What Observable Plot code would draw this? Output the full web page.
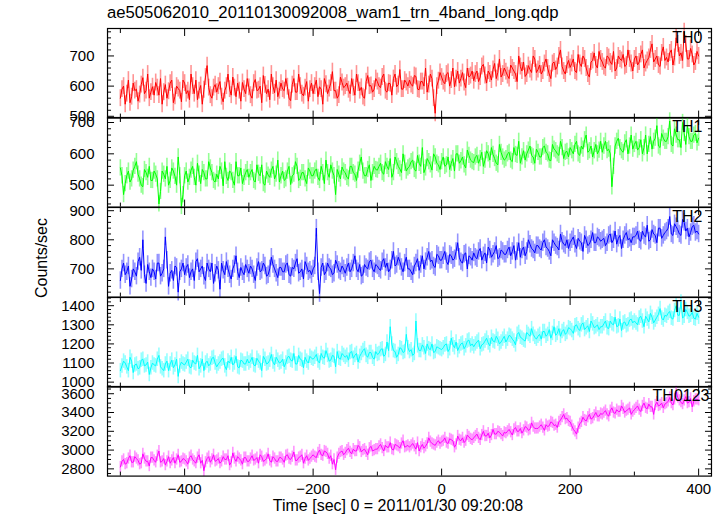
<!DOCTYPE html>
<html><head><meta charset="utf-8">
<script src="https://cdn.jsdelivr.net/npm/d3@7"></script>
<script src="https://cdn.jsdelivr.net/npm/@observablehq/plot@0.6"></script>
<style>
html,body{margin:0;padding:0;background:#fff;}
#chart{position:relative;width:723px;height:516px;font-family:"Liberation Sans",Arial,sans-serif;color:#000;overflow:hidden;}
#chart svg{position:absolute;left:0;overflow:visible;}
.lbl{position:absolute;white-space:nowrap;font-size:16px;line-height:16px;}
</style></head><body><div id="chart"></div>
<script>
const title = "ae505062010_20110130092008_wam1_trn_4band_long.qdp";
const xTitle = "Time [sec] 0 = 2011/01/30 09:20:08";
const yTitle = "Counts/sec";
const bands = ["TH0", "TH1", "TH2", "TH3", "TH0123"];
const colors = ["#ff0000", "#00ff00", "#0000ff", "#00ffff", "#ff00ff"];
// readings every 5 s from t=-500 (a) and the in-between readings at t=-497.5+5k (b)
const tStart = -500, tStep = 2.5;

const th0a = [
560,600,575,545,610,590,572,628,585,560,
598,612,570,540,605,583,620,566,592,548,
610,585,640,575,555,602,588,668,570,595,
580,615,548,600,590,630,565,585,612,575,
596,560,622,588,545,604,590,640,578,565,
610,585,598,552,625,580,600,568,615,590,
575,620,598,540,606,592,648,585,570,612,
600,588,625,570,610,596,560,635,602,590,
615,595,640,580,608,625,598,655,590,612,
620,600,632,588,615,660,605,625,510,618,
630,608,645,620,598,650,625,612,660,635,
618,650,630,672,610,640,655,625,690,640,
648,625,660,640,700,650,632,668,645,690,
655,640,675,660,625,680,665,720,650,670,
662,690,645,675,700,660,630,685,670,715,
680,660,695,672,650,700,685,665,720,675,
690,670,705,660,685,720,680,700,665,730,
695,710,670,760,700,685,740,690,705,680,
700];
const th0b = [
590,540,620,565,585,550,605,575,640,580,
570,595,625,580,560,610,545,600,585,620,
575,555,600,620,585,540,630,595,560,605,
600,565,585,640,570,595,610,550,590,625,
570,610,585,600,635,575,555,600,620,585,
590,625,560,605,580,640,575,595,550,610,
600,565,590,625,575,610,585,560,630,595,
610,575,595,640,585,565,615,600,580,625,
600,630,585,610,570,640,605,590,620,600,
605,635,590,615,600,580,640,560,600,645,
615,640,600,660,625,610,645,595,630,650,
640,615,665,635,650,620,675,645,630,660,
635,670,650,615,665,680,640,655,700,645,
670,650,690,640,675,655,700,665,640,685,
675,650,705,665,690,640,680,710,660,690,
665,700,680,715,660,690,705,670,690,650,
700,680,720,675,695,740,690,670,710,685,
680,720,695,740,710,780,690,725,670,715];

const th1a = [
555,470,530,510,548,575,520,495,540,560,
515,535,440,545,520,500,555,528,590,432,
530,510,548,525,570,505,540,520,555,515,
535,560,498,528,545,515,575,530,505,540,
525,550,510,538,565,500,532,548,520,580,
530,515,545,502,535,560,522,540,505,545,
530,552,515,540,580,525,545,470,535,558,
540,520,560,535,548,590,530,550,515,560,
548,570,535,560,585,540,575,552,600,545,
560,580,545,570,620,555,575,548,590,565,
575,560,590,570,545,600,578,565,612,580,
572,595,585,560,610,580,598,570,630,590,
585,605,575,598,640,590,580,612,595,570,
605,590,625,600,578,615,600,640,585,608,
620,600,640,595,615,660,610,590,630,612,
605,640,615,495,625,650,610,635,600,660,
630,612,645,620,600,655,640,690,620,650,
640,705,625,660,645,700,630,655,640,665,
650];
const th1b = [
530,505,545,520,560,535,500,550,525,515,
545,520,480,535,560,515,545,500,530,470,
545,525,560,500,535,550,520,575,540,510,
520,545,575,515,540,500,530,555,525,550,
540,515,565,530,505,545,525,560,535,510,
545,520,560,530,575,515,540,520,555,530,
545,525,560,505,540,565,530,550,520,545,
525,560,540,515,570,545,530,565,540,550,
560,540,575,550,525,590,560,540,570,555,
575,550,595,560,540,585,565,600,570,550,
590,565,550,585,600,570,590,555,595,575,
590,570,605,580,600,620,585,565,605,580,
600,580,620,595,570,610,600,625,590,615,
590,620,605,580,630,610,595,620,605,590,
610,630,600,625,645,605,625,610,600,640,
625,610,600,560,640,620,605,645,625,615,
640,620,600,660,630,615,650,625,665,640,
655,630,680,645,620,665,690,640,660,635];

const th2a = [
660,720,690,640,700,675,740,800,650,690,
700,665,720,685,810,640,695,710,620,700,
680,715,690,660,735,700,675,720,690,650,
710,630,695,725,680,700,745,670,690,715,
685,700,660,725,695,710,680,740,700,670,
705,690,720,675,700,735,690,665,710,695,
700,840,615,720,690,705,680,730,695,710,
685,720,700,745,690,675,715,700,730,690,
710,695,735,720,700,760,715,725,690,740,
700,680,720,695,745,725,760,730,705,745,
730,760,715,745,735,790,725,750,700,740,
755,735,770,745,720,765,750,780,740,760,
750,775,760,730,790,765,745,800,770,755,
780,765,800,770,745,790,775,820,785,800,
790,810,770,795,760,800,785,825,790,805,
800,780,815,790,830,805,770,815,800,790,
810,830,795,815,850,800,820,790,840,815,
830,880,815,845,820,870,830,810,845,825,
820];
const th2b = [
700,680,710,665,690,725,695,680,715,670,
690,720,675,700,730,685,660,705,690,720,
705,670,700,725,690,710,660,700,720,685,
695,720,680,700,665,715,690,705,680,700,
710,680,705,690,720,675,700,715,685,705,
690,715,680,705,720,685,700,725,690,680,
710,690,705,680,720,700,685,715,690,700,
705,690,720,700,715,680,705,725,700,715,
700,725,705,690,730,710,740,705,720,700,
690,710,735,715,700,740,725,710,750,730,
745,725,750,730,760,740,720,755,745,730,
740,760,730,755,775,740,760,735,765,750,
765,745,780,760,740,775,760,785,765,780,
770,790,775,760,800,780,765,795,780,770,
800,785,805,790,815,780,800,790,810,795,
805,790,820,800,785,815,800,825,805,810,
815,800,830,810,795,835,815,840,805,825,
840,820,855,835,815,860,840,825,850,830];

const th3a = [
1060,1110,1080,1130,1050,1095,1075,1120,1090,1040,
1100,1085,1140,1070,1095,1060,1115,1090,1030,1105,
1090,1120,1075,1100,1140,1085,1060,1110,1095,1130,
1080,1105,1125,1065,1100,1090,1135,1075,1110,1095,
1100,1130,1085,1110,1060,1120,1100,1145,1090,1115,
1105,1080,1130,1115,1150,1095,1120,1075,1110,1135,
1120,1145,1100,1130,1165,1110,1140,1080,1125,1150,
1130,1115,1160,1140,1105,1150,1175,1130,1155,1120,
1145,1170,1135,1210,1290,1165,1130,1180,1155,1250,
1160,1140,1320,1165,1195,1150,1175,1200,1160,1180,
1170,1195,1160,1230,1180,1165,1200,1175,1215,1190,
1185,1210,1175,1200,1230,1190,1215,1240,1200,1225,
1210,1245,1225,1195,1260,1230,1215,1250,1280,1235,
1240,1225,1265,1250,1230,1290,1255,1240,1275,1260,
1280,1255,1300,1270,1310,1285,1265,1305,1290,1275,
1290,1320,1280,1305,1340,1295,1270,1315,1300,1330,
1320,1300,1345,1290,1330,1360,1310,1340,1385,1325,
1345,1370,1330,1400,1350,1335,1380,1345,1365,1330,
1340];
const th3b = [
1085,1100,1060,1110,1090,1070,1115,1085,1105,1075,
1090,1120,1080,1060,1110,1095,1075,1120,1085,1095,
1105,1080,1115,1095,1070,1120,1100,1085,1125,1100,
1095,1120,1085,1110,1130,1100,1080,1115,1095,1120,
1110,1090,1125,1100,1135,1095,1115,1105,1130,1100,
1120,1100,1135,1110,1095,1140,1115,1130,1100,1125,
1130,1110,1150,1125,1140,1115,1135,1160,1120,1140,
1140,1155,1125,1150,1135,1165,1140,1155,1130,1160,
1150,1175,1145,1165,1200,1160,1145,1175,1160,1180,
1170,1150,1190,1165,1180,1200,1170,1155,1185,1175,
1180,1200,1175,1195,1210,1185,1205,1190,1220,1200,
1200,1220,1195,1215,1205,1235,1210,1225,1210,1240,
1225,1240,1215,1250,1235,1220,1260,1240,1250,1225,
1250,1265,1240,1275,1255,1245,1280,1265,1250,1285,
1270,1295,1280,1300,1275,1295,1320,1285,1300,1290,
1305,1285,1320,1300,1290,1330,1310,1295,1325,1310,
1310,1335,1320,1345,1315,1340,1325,1355,1335,1350,
1360,1335,1375,1350,1420,1345,1365,1350,1335,1360];

const th0123a = [
2820,2900,2860,2940,2870,2910,2850,2960,2880,2830,
2920,2870,2990,2880,2840,2930,2890,2860,2950,2880,
2900,2850,2940,2880,2920,2860,2780,2910,2870,2950,
2890,2860,2930,2900,2840,2970,2880,2910,2850,2920,
2880,2940,2900,2860,2930,2890,2960,2870,2910,2880,
2920,2870,2950,2900,2980,2890,2930,2860,2940,2910,
2950,2920,3000,2940,2980,2910,2850,2790,2960,2990,
2970,3020,2960,2990,3050,2980,3010,2950,3040,3000,
3010,3060,2990,3030,3080,3000,3050,3020,3100,3040,
3030,3070,3010,2990,3060,3040,3130,3070,3050,3100,
3090,3130,3070,3110,3030,3150,3100,3080,3160,3120,
3130,3170,3110,3200,3150,3130,3220,3170,3190,3150,
3180,3220,3160,3240,3200,3180,3250,3210,3290,3230,
3230,3270,3210,3250,3300,3260,3240,3320,3380,3340,
3300,3220,3170,3280,3350,3310,3380,3340,3400,3360,
3380,3420,3360,3450,3390,3410,3470,3400,3430,3380,
3430,3470,3410,3500,3440,3460,3380,3510,3480,3450,
3500,3560,3480,3620,3530,3490,3570,3510,3460,3540,
3530];
const th0123b = [
2880,2850,2910,2870,2930,2890,2860,2910,2880,2920,
2890,2940,2870,2910,2880,2860,2920,2900,2870,2910,
2880,2920,2900,2860,2950,2890,2870,2930,2900,2880,
2910,2880,2900,2940,2870,2910,2930,2890,2920,2880,
2910,2890,2920,2950,2880,2910,2890,2930,2880,2920,
2900,2940,2910,2930,2890,2920,2950,2910,2890,2930,
2930,2970,2950,2990,2960,2940,2900,2920,2980,2950,
3000,2980,3010,2990,3030,3000,2980,3020,2990,3010,
3040,3020,3050,3030,3010,3060,3040,3070,3030,3050,
3050,3040,3080,3030,3020,3070,3090,3060,3080,3070,
3100,3080,3120,3100,3060,3110,3130,3100,3140,3110,
3150,3130,3160,3150,3180,3160,3170,3200,3170,3190,
3200,3190,3220,3200,3230,3210,3240,3220,3250,3230,
3250,3240,3270,3260,3290,3270,3300,3350,3330,3310,
3260,3200,3240,3300,3320,3350,3330,3370,3360,3390,
3400,3380,3420,3400,3430,3410,3440,3420,3450,3410,
3450,3430,3470,3450,3490,3460,3480,3470,3500,3490,
3520,3500,3540,3560,3510,3530,3500,3550,3520,3540];

const seriesA = [th0a, th1a, th2a, th3a, th0123a];
const seriesB = [th0b, th1b, th2b, th3b, th0123b];
const errors = [28, 26, 30, 38, 60];
const yDomains = [[494, 791], [430, 716], [603, 911], [974, 1443], [2723, 3677]];
const yTicks = [[500, 600, 700], [500, 600, 700], [700, 800, 900], [1000, 1100, 1200, 1300, 1400], [2800, 3000, 3200, 3400, 3600]];
const yMinorSteps = [20, 20, 20, 20, 50];
const xTicks = [-400, -200, 0, 200, 400];
const xMinorTicks = [-500, -300, -100, 100, 300];
const xDomain = [-520, 420];

const chart = document.getElementById("chart");
const top0 = 27.7, panelH = 89.6, mLeft = 107, mRight = 12;
const fmt = d => d < 0 ? "\u2212" + Math.abs(d) : String(d);
const labelDx = [-9, -9, -9, -9, -2];

seriesA.forEach((a, i) => {
  const b = seriesB[i];
  const vals = [];
  a.forEach((v, k) => { vals.push(v); if (k < b.length) vals.push(b[k]); });
  const data = vals.map((v, k) => ({t: tStart + k * tStep, v}));
  const err = errors[i];
  const [lo, hi] = yDomains[i];
  const st = yMinorSteps[i];
  const minorY = d3.range(Math.ceil(lo / st) * st, hi, st).filter(v => !yTicks[i].includes(v));
  const last = i === seriesA.length - 1;
  const marks = [
    Plot.ruleX(data, {x: "t", y1: d => d.v - err, y2: d => d.v + err, stroke: colors[i], strokeOpacity: 0.42, strokeWidth: 1.6}),
    Plot.line(data, {x: "t", y: "v", stroke: colors[i], strokeWidth: 1}),
    Plot.frame({stroke: "#000", strokeWidth: 1.2}),
    Plot.axisY({anchor: "left", ticks: yTicks[i], tickSize: 7, dx: 7, tickFormat: () => "", label: null}),
    Plot.axisY({anchor: "right", ticks: yTicks[i], tickSize: 7, dx: -7, tickFormat: () => "", label: null}),
    Plot.axisY({anchor: "left", ticks: minorY, tickSize: 4, dx: 4, tickFormat: () => "", label: null}),
    Plot.axisY({anchor: "right", ticks: minorY, tickSize: 4, dx: -4, tickFormat: () => "", label: null}),
    Plot.axisY({anchor: "left", ticks: yTicks[i], tickSize: 0, tickPadding: 13, tickFormat: fmt, label: null}),
    Plot.axisX({anchor: "bottom", ticks: xTicks, tickSize: 7, dy: -7, tickFormat: () => "", label: null}),
    Plot.axisX({anchor: "top", ticks: xTicks, tickSize: 7, dy: 7, tickFormat: () => "", label: null}),
    Plot.axisX({anchor: "bottom", ticks: xMinorTicks, tickSize: 4, dy: -4, tickFormat: () => "", label: null}),
    Plot.axisX({anchor: "top", ticks: xMinorTicks, tickSize: 4, dy: 4, tickFormat: () => "", label: null}),
    Plot.text([bands[i]], {frameAnchor: "top-right", text: d => d, textAnchor: "end", lineAnchor: "top", dx: labelDx[i], dy: 3, fontSize: 16, fill: "#000"})
  ];
  if (last) marks.push(Plot.axisX({anchor: "bottom", ticks: xTicks, tickSize: 0, tickPadding: 7, tickFormat: fmt, label: null}));
  const svg = Plot.plot({
    width: 723,
    height: panelH + (last ? 40 : 0),
    marginTop: 0,
    marginBottom: last ? 40 : 0,
    marginLeft: mLeft,
    marginRight: mRight,
    x: {domain: xDomain},
    y: {domain: yDomains[i]},
    style: {background: "transparent", overflow: "visible", fontFamily: '"Liberation Sans", Arial, sans-serif', fontSize: "15px", color: "#000"},
    marks
  });
  svg.style.position = "absolute";
  svg.style.left = "0px";
  svg.style.top = (top0 + i * panelH) + "px";
  chart.appendChild(svg);
});

function addLabel(text, css) {
  const d = document.createElement("div");
  d.className = "lbl";
  d.textContent = text;
  Object.assign(d.style, css);
  chart.appendChild(d);
}
addLabel(title, {left: "107px", top: "5px", fontSize: "16.7px"});
addLabel(xTitle, {left: "398px", top: "497.5px", transform: "translateX(-50%)"});
addLabel(yTitle, {left: "41.5px", top: "258px", transform: "translate(-50%,-50%) rotate(-90deg)"});
</script></body></html>
